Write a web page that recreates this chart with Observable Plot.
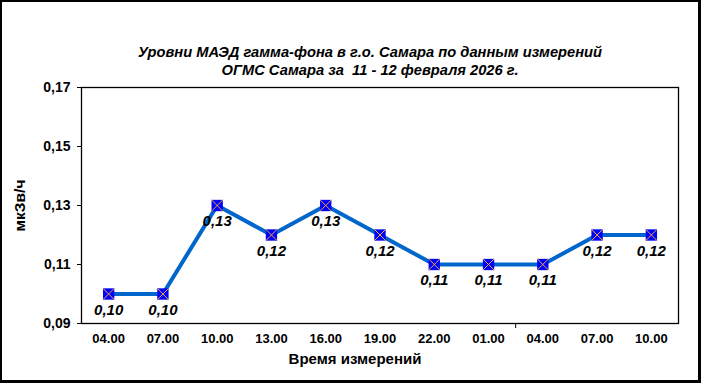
<!DOCTYPE html>
<html><head><meta charset="utf-8">
<script src="https://cdn.jsdelivr.net/npm/d3@7"></script>
<script src="https://cdn.jsdelivr.net/npm/@observablehq/plot@0.6"></script>
<style>
html,body{margin:0;padding:0;background:#fff;}
#wrap{position:relative;width:701px;height:383px;overflow:hidden;font-family:"Liberation Sans",Arial,sans-serif;}
#border{position:absolute;left:0;top:0;width:701px;height:383px;box-sizing:border-box;border-style:solid;border-color:#000;border-width:2px 3px 3px 2px;pointer-events:none;}
#title{position:absolute;left:0;width:740px;top:43px;text-align:center;font:bold italic 14.7px "Liberation Sans",Arial,sans-serif;line-height:18px;color:#000;}
#chart{position:absolute;left:0;top:0;}
</style></head>
<body><div id="wrap"><div id="chart"></div><div id="title">Уровни МАЭД гамма-фона в г.о. Самара по данным измерений<br>ОГМС Самара за&nbsp; 11 - 12 февраля 2026 г.</div><div id="border"></div></div>
<script>
const timeLabels = ["04.00","07.00","10.00","13.00","16.00","19.00","22.00","01.00","04.00","07.00","10.00"];
const doseValues = [0.10,0.10,0.13,0.12,0.13,0.12,0.11,0.11,0.11,0.12,0.12];
const yTicks = [0.09,0.11,0.13,0.15,0.17];
const dayBoundary = [7.5];
const yLabel = "мкЗв/ч";
const xLabel = "Время измерений";

const data = doseValues.map((v,i)=>({i, v, t: timeLabels[i]}));
const comma = v => v.toFixed(2).replace(".", ",");

const chart = Plot.plot({
  width: 701, height: 383,
  marginLeft: 81, marginRight: 23, marginTop: 87, marginBottom: 60,
  style: {fontFamily: '"Liberation Sans", Arial, sans-serif', background: "transparent", color: "#000"},
  x: {type: "linear", domain: [-0.5, 10.5]},
  y: {domain: [0.09, 0.17]},
  marks: [
    Plot.frame({stroke: "#000", strokeWidth: 1.3}),
    Plot.axisY({ticks: yTicks, tickFormat: comma, tickSize: 4, tickPadding: 7, fontSize: 14, fontWeight: "bold", label: null, stroke: "#000"}),
    Plot.axisX({ticks: d3.range(timeLabels.length), tickFormat: i => timeLabels[i], tickSize: 0, tickPadding: 10, fontSize: 13, fontWeight: "bold", label: null}),
    Plot.axisX({ticks: dayBoundary, tickFormat: () => "", tickSize: 5, label: null, stroke: "#000"}),
    Plot.text([yLabel], {frameAnchor: "left", textAnchor: "middle", dx: -61, dy: 0, rotate: -90, fontSize: 15.5, fontWeight: "bold", fill: "#000"}),
    Plot.text([xLabel], {frameAnchor: "bottom", dx: -25, dy: 40, fontSize: 15, fontWeight: "bold", fill: "#000"}),
    Plot.line(data, {x: "i", y: "v", stroke: "#0066CC", strokeWidth: 4}),
    Plot.dot(data, {x: "i", y: "v", symbol: "square", r: 6.4, fill: "#0000FF", stroke: "none"}),
    Plot.dot(data, {x: "i", y: "v", symbol: "times", r: 5.2, stroke: "#F0A830", strokeWidth: 1, fill: "none"}),
    Plot.text(data, {x: "i", y: "v", text: d => comma(d.v), dy: 16, fontSize: 15, fontWeight: "bold", fontStyle: "italic", fill: "#000"})
  ]
});
document.getElementById("chart").appendChild(chart);
</script></body></html>
